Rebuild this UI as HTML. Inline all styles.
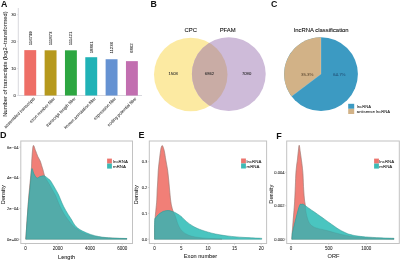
<!DOCTYPE html>
<html><head><meta charset="utf-8"><style>
html,body{margin:0;padding:0;background:#fff;}
body{width:400px;height:260px;overflow:hidden;}
svg{display:block;will-change:transform;filter:blur(0.3px);font-family:"Liberation Sans", sans-serif;}
</style></head><body>
<svg width="400" height="260" viewBox="0 0 400 260">
<rect width="400" height="260" fill="#fff"/>
<text x="1.0" y="6.6" font-size="8.8" text-anchor="start" font-weight="bold" fill="#111" stroke="#111" stroke-width="0">A</text>
<text x="150.4" y="6.7" font-size="8.8" text-anchor="start" font-weight="bold" fill="#111" stroke="#111" stroke-width="0">B</text>
<text x="271.0" y="6.9" font-size="8.8" text-anchor="start" font-weight="bold" fill="#111" stroke="#111" stroke-width="0">C</text>
<text x="0.05" y="138.3" font-size="9" text-anchor="start" font-weight="bold" fill="#111" stroke="#111" stroke-width="0">D</text>
<text x="138.4" y="138.1" font-size="9" text-anchor="start" font-weight="bold" fill="#111" stroke="#111" stroke-width="0">E</text>
<text x="276.3" y="139.0" font-size="9" text-anchor="start" font-weight="bold" fill="#111" stroke="#111" stroke-width="0">F</text>
<line x1="18.3" y1="8" x2="18.3" y2="95.5" stroke="#d4d4da" stroke-width="0.9"/>
<line x1="18.3" y1="95.5" x2="142" y2="95.5" stroke="#d4d4da" stroke-width="0.9"/>
<line x1="16.9" y1="95.50" x2="18.3" y2="95.50" stroke="#d4d4da" stroke-width="0.6"/>
<text x="15.7" y="96.6" font-size="4.1" text-anchor="end" font-weight="normal" fill="#262626" stroke="#262626" stroke-width="0.05">0</text>
<line x1="16.9" y1="68.55" x2="18.3" y2="68.55" stroke="#d4d4da" stroke-width="0.6"/>
<text x="15.7" y="69.64999999999999" font-size="4.1" text-anchor="end" font-weight="normal" fill="#262626" stroke="#262626" stroke-width="0.05">10</text>
<line x1="16.9" y1="41.60" x2="18.3" y2="41.60" stroke="#d4d4da" stroke-width="0.6"/>
<text x="15.7" y="42.7" font-size="4.1" text-anchor="end" font-weight="normal" fill="#262626" stroke="#262626" stroke-width="0.05">20</text>
<line x1="16.9" y1="14.65" x2="18.3" y2="14.65" stroke="#d4d4da" stroke-width="0.6"/>
<text x="15.7" y="15.750000000000005" font-size="4.1" text-anchor="end" font-weight="normal" fill="#262626" stroke="#262626" stroke-width="0.05">30</text>
<rect x="24.30" y="50.13" width="11.9" height="45.37" fill="#EE6E66"/>
<text x="31.75" y="45.30" font-size="4.3" text-anchor="start" font-weight="normal" fill="#222" stroke="#222" stroke-width="0.05" transform="rotate(-90 31.75 45.30)">116799</text>
<text x="35.25" y="98.90" font-size="4.3" text-anchor="end" font-weight="normal" fill="#222" stroke="#222" stroke-width="0.05" transform="rotate(-45 35.25 98.90)">assembled transcripts</text>
<rect x="44.63" y="50.30" width="11.9" height="45.20" fill="#B6991D"/>
<text x="52.08" y="45.30" font-size="4.3" text-anchor="start" font-weight="normal" fill="#222" stroke="#222" stroke-width="0.05" transform="rotate(-90 52.08 45.30)">111873</text>
<text x="55.58" y="98.90" font-size="4.3" text-anchor="end" font-weight="normal" fill="#222" stroke="#222" stroke-width="0.05" transform="rotate(-45 55.58 98.90)">exon number filter</text>
<rect x="64.96" y="50.32" width="11.9" height="45.18" fill="#2DA641"/>
<text x="72.41" y="45.30" font-size="4.3" text-anchor="start" font-weight="normal" fill="#222" stroke="#222" stroke-width="0.05" transform="rotate(-90 72.41 45.30)">111421</text>
<text x="75.91" y="98.90" font-size="4.3" text-anchor="end" font-weight="normal" fill="#222" stroke="#222" stroke-width="0.05" transform="rotate(-45 75.91 98.90)">transcript length filter</text>
<rect x="85.29" y="57.22" width="11.9" height="38.28" fill="#20B2B6"/>
<text x="92.74" y="53.30" font-size="4.3" text-anchor="start" font-weight="normal" fill="#222" stroke="#222" stroke-width="0.05" transform="rotate(-90 92.74 53.30)">18861</text>
<text x="96.24" y="98.90" font-size="4.3" text-anchor="end" font-weight="normal" fill="#222" stroke="#222" stroke-width="0.05" transform="rotate(-45 96.24 98.90)">known annotation filter</text>
<rect x="105.62" y="59.24" width="11.9" height="36.26" fill="#6592D2"/>
<text x="113.07" y="53.60" font-size="4.3" text-anchor="start" font-weight="normal" fill="#222" stroke="#222" stroke-width="0.05" transform="rotate(-90 113.07 53.60)">11236</text>
<text x="116.57" y="98.90" font-size="4.3" text-anchor="end" font-weight="normal" fill="#222" stroke="#222" stroke-width="0.05" transform="rotate(-45 116.57 98.90)">expression filter</text>
<rect x="125.95" y="61.15" width="11.9" height="34.35" fill="#C26FB0"/>
<text x="133.40" y="52.90" font-size="4.3" text-anchor="start" font-weight="normal" fill="#222" stroke="#222" stroke-width="0.05" transform="rotate(-90 133.40 52.90)">6862</text>
<text x="136.90" y="98.90" font-size="4.3" text-anchor="end" font-weight="normal" fill="#222" stroke="#222" stroke-width="0.05" transform="rotate(-45 136.90 98.90)">coding potential filter</text>
<text x="6.8" y="64.0" font-size="5.75" text-anchor="middle" font-weight="normal" fill="#222" stroke="#222" stroke-width="0.05" transform="rotate(-90 6.8 64.0)">Number of transcripts (log2−transformed)</text>
<circle cx="190.75" cy="74.45" r="36.75" fill="#FCEAA2"/>
<circle cx="228.8" cy="74.1" r="36.9" fill="#CEBBD9"/>
<clipPath id="cl"><circle cx="190.75" cy="74.45" r="36.75"/></clipPath>
<circle cx="228.8" cy="74.1" r="36.9" fill="#C9ACA5" clip-path="url(#cl)"/>
<text x="190.8" y="32.4" font-size="5.9" text-anchor="middle" font-weight="normal" fill="#111" stroke="#111" stroke-width="0.05" style="stroke-width:0.09px">CPC</text>
<text x="227.7" y="32.4" font-size="5.9" text-anchor="middle" font-weight="normal" fill="#111" stroke="#111" stroke-width="0.05" style="stroke-width:0.09px">PFAM</text>
<text x="173.2" y="75.3" font-size="4.2" text-anchor="middle" font-weight="normal" fill="#262626" stroke="#262626" stroke-width="0.05">1503</text>
<text x="209.5" y="75.3" font-size="4.2" text-anchor="middle" font-weight="normal" fill="#262626" stroke="#262626" stroke-width="0.05">6862</text>
<text x="246.6" y="75.3" font-size="4.2" text-anchor="middle" font-weight="normal" fill="#262626" stroke="#262626" stroke-width="0.05">7090</text>
<circle cx="321.0" cy="74.1" r="36.9" fill="#3C9AC2"/>
<path d="M321.0,74.1 L321.0,37.199999999999996 A36.9,36.9 0 0 0 291.56,96.35 Z" fill="#D2B287"/>
<path d="M291.56,96.35 L321.0,74.1 L321.0,37.199999999999996" fill="none" stroke="#fff" stroke-opacity="0.35" stroke-width="0.5"/>
<text x="321.3" y="32.4" font-size="5.9" text-anchor="middle" font-weight="normal" fill="#111" stroke="#111" stroke-width="0.05" style="stroke-width:0.09px">lncRNA classification</text>
<text x="307.2" y="75.5" font-size="4.4" text-anchor="middle" font-weight="normal" fill="#5f4c34" stroke="#5f4c34" stroke-width="0.05">35.3%</text>
<text x="339.3" y="75.5" font-size="4.4" text-anchor="middle" font-weight="normal" fill="#24557a" stroke="#24557a" stroke-width="0.05">64.7%</text>
<rect x="348.2" y="103.8" width="6" height="5" fill="#3C9AC2"/>
<rect x="348.2" y="108.8" width="6" height="5.2" fill="#D2B287"/>
<text x="356.8" y="107.8" font-size="4.2" text-anchor="start" font-weight="normal" fill="#262626" stroke="#262626" stroke-width="0.05">lncRNA</text>
<text x="356.8" y="113.3" font-size="4.2" text-anchor="start" font-weight="normal" fill="#262626" stroke="#262626" stroke-width="0.05">antisense lncRNA</text>
<rect x="20.8" y="141.0" width="111.7" height="102.5" fill="none" stroke="#c2c2c2" stroke-width="1"/>
<clipPath id="cd"><path d="M25.80,239.25 C26.25,232.71 27.58,211.54 28.50,200.00 C29.42,188.46 30.75,176.67 31.30,170.00 C31.85,163.33 31.48,164.03 31.80,160.00 C32.12,155.97 32.58,147.38 33.20,145.80 C33.82,144.22 34.73,148.72 35.50,150.50 C36.27,152.28 37.02,154.75 37.80,156.50 C38.58,158.25 39.57,159.50 40.20,161.00 C40.83,162.50 41.13,164.00 41.60,165.50 C42.07,167.00 42.60,168.58 43.00,170.00 C43.40,171.42 43.63,172.75 44.00,174.00 C44.37,175.25 44.70,176.42 45.20,177.50 C45.70,178.58 46.28,179.33 47.00,180.50 C47.72,181.67 48.58,182.92 49.50,184.50 C50.42,186.08 51.48,188.15 52.50,190.00 C53.52,191.85 54.58,193.43 55.60,195.60 C56.62,197.77 57.48,200.47 58.60,203.00 C59.72,205.53 60.85,208.18 62.30,210.80 C63.75,213.42 65.38,216.08 67.30,218.70 C69.22,221.32 71.60,224.42 73.80,226.50 C76.00,228.58 78.05,229.83 80.50,231.20 C82.95,232.57 84.75,233.62 88.50,234.70 C92.25,235.78 96.58,237.03 103.00,237.70 C109.42,238.37 123.00,238.53 127.00,238.70 L127.00,239.25 L25.80,239.25 Z"/></clipPath>
<path d="M25.80,239.25 C26.25,232.71 27.58,211.54 28.50,200.00 C29.42,188.46 30.75,176.67 31.30,170.00 C31.85,163.33 31.48,164.03 31.80,160.00 C32.12,155.97 32.58,147.38 33.20,145.80 C33.82,144.22 34.73,148.72 35.50,150.50 C36.27,152.28 37.02,154.75 37.80,156.50 C38.58,158.25 39.57,159.50 40.20,161.00 C40.83,162.50 41.13,164.00 41.60,165.50 C42.07,167.00 42.60,168.58 43.00,170.00 C43.40,171.42 43.63,172.75 44.00,174.00 C44.37,175.25 44.70,176.42 45.20,177.50 C45.70,178.58 46.28,179.33 47.00,180.50 C47.72,181.67 48.58,182.92 49.50,184.50 C50.42,186.08 51.48,188.15 52.50,190.00 C53.52,191.85 54.58,193.43 55.60,195.60 C56.62,197.77 57.48,200.47 58.60,203.00 C59.72,205.53 60.85,208.18 62.30,210.80 C63.75,213.42 65.38,216.08 67.30,218.70 C69.22,221.32 71.60,224.42 73.80,226.50 C76.00,228.58 78.05,229.83 80.50,231.20 C82.95,232.57 84.75,233.62 88.50,234.70 C92.25,235.78 96.58,237.03 103.00,237.70 C109.42,238.37 123.00,238.53 127.00,238.70 L127.00,239.25 L25.80,239.25 Z" fill="#F17F77"/>
<path d="M25.80,239.25 C26.25,232.71 27.58,211.54 28.50,200.00 C29.42,188.46 30.75,176.67 31.30,170.00 C31.85,163.33 31.48,164.03 31.80,160.00 C32.12,155.97 32.58,147.38 33.20,145.80 C33.82,144.22 34.73,148.72 35.50,150.50 C36.27,152.28 37.02,154.75 37.80,156.50 C38.58,158.25 39.57,159.50 40.20,161.00 C40.83,162.50 41.13,164.00 41.60,165.50 C42.07,167.00 42.60,168.58 43.00,170.00 C43.40,171.42 43.63,172.75 44.00,174.00 C44.37,175.25 44.70,176.42 45.20,177.50 C45.70,178.58 46.28,179.33 47.00,180.50 C47.72,181.67 48.58,182.92 49.50,184.50 C50.42,186.08 51.48,188.15 52.50,190.00 C53.52,191.85 54.58,193.43 55.60,195.60 C56.62,197.77 57.48,200.47 58.60,203.00 C59.72,205.53 60.85,208.18 62.30,210.80 C63.75,213.42 65.38,216.08 67.30,218.70 C69.22,221.32 71.60,224.42 73.80,226.50 C76.00,228.58 78.05,229.83 80.50,231.20 C82.95,232.57 84.75,233.62 88.50,234.70 C92.25,235.78 96.58,237.03 103.00,237.70 C109.42,238.37 123.00,238.53 127.00,238.70" fill="none" stroke="#D46A63" stroke-width="0.5"/>
<path d="M25.80,239.25 C26.17,234.04 27.27,216.88 28.00,208.00 C28.73,199.12 29.57,192.50 30.20,186.00 C30.83,179.50 31.17,171.00 31.80,169.00 C32.43,167.00 33.13,172.50 34.00,174.00 C34.87,175.50 36.00,177.58 37.00,178.00 C38.00,178.42 38.92,176.87 40.00,176.50 C41.08,176.13 42.58,175.80 43.50,175.80 C44.42,175.80 44.75,176.05 45.50,176.50 C46.25,176.95 47.17,177.80 48.00,178.50 C48.83,179.20 49.45,179.28 50.50,180.70 C51.55,182.12 52.93,184.62 54.30,187.00 C55.67,189.38 57.42,192.33 58.70,195.00 C59.98,197.67 60.82,200.42 62.00,203.00 C63.18,205.58 64.30,207.87 65.80,210.50 C67.30,213.13 69.30,216.12 71.00,218.80 C72.70,221.48 74.08,224.57 76.00,226.60 C77.92,228.63 80.08,229.70 82.50,231.00 C84.92,232.30 87.83,233.48 90.50,234.40 C93.17,235.32 95.83,235.97 98.50,236.50 C101.17,237.03 103.83,237.33 106.50,237.60 C109.17,237.87 111.10,237.95 114.50,238.10 C117.90,238.25 124.83,238.43 126.90,238.50 L126.90,239.25 L25.80,239.25 Z" fill="#4AC5C0"/>
<path d="M25.80,239.25 C26.17,234.04 27.27,216.88 28.00,208.00 C28.73,199.12 29.57,192.50 30.20,186.00 C30.83,179.50 31.17,171.00 31.80,169.00 C32.43,167.00 33.13,172.50 34.00,174.00 C34.87,175.50 36.00,177.58 37.00,178.00 C38.00,178.42 38.92,176.87 40.00,176.50 C41.08,176.13 42.58,175.80 43.50,175.80 C44.42,175.80 44.75,176.05 45.50,176.50 C46.25,176.95 47.17,177.80 48.00,178.50 C48.83,179.20 49.45,179.28 50.50,180.70 C51.55,182.12 52.93,184.62 54.30,187.00 C55.67,189.38 57.42,192.33 58.70,195.00 C59.98,197.67 60.82,200.42 62.00,203.00 C63.18,205.58 64.30,207.87 65.80,210.50 C67.30,213.13 69.30,216.12 71.00,218.80 C72.70,221.48 74.08,224.57 76.00,226.60 C77.92,228.63 80.08,229.70 82.50,231.00 C84.92,232.30 87.83,233.48 90.50,234.40 C93.17,235.32 95.83,235.97 98.50,236.50 C101.17,237.03 103.83,237.33 106.50,237.60 C109.17,237.87 111.10,237.95 114.50,238.10 C117.90,238.25 124.83,238.43 126.90,238.50 L126.90,239.25 L25.80,239.25 Z" fill="#53ABA9" clip-path="url(#cd)"/>
<path d="M25.80,239.25 C26.25,232.71 27.58,211.54 28.50,200.00 C29.42,188.46 30.75,176.67 31.30,170.00 C31.85,163.33 31.48,164.03 31.80,160.00 C32.12,155.97 32.58,147.38 33.20,145.80 C33.82,144.22 34.73,148.72 35.50,150.50 C36.27,152.28 37.02,154.75 37.80,156.50 C38.58,158.25 39.57,159.50 40.20,161.00 C40.83,162.50 41.13,164.00 41.60,165.50 C42.07,167.00 42.60,168.58 43.00,170.00 C43.40,171.42 43.63,172.75 44.00,174.00 C44.37,175.25 44.70,176.42 45.20,177.50 C45.70,178.58 46.28,179.33 47.00,180.50 C47.72,181.67 48.58,182.92 49.50,184.50 C50.42,186.08 51.48,188.15 52.50,190.00 C53.52,191.85 54.58,193.43 55.60,195.60 C56.62,197.77 57.48,200.47 58.60,203.00 C59.72,205.53 60.85,208.18 62.30,210.80 C63.75,213.42 65.38,216.08 67.30,218.70 C69.22,221.32 71.60,224.42 73.80,226.50 C76.00,228.58 78.05,229.83 80.50,231.20 C82.95,232.57 84.75,233.62 88.50,234.70 C92.25,235.78 96.58,237.03 103.00,237.70 C109.42,238.37 123.00,238.53 127.00,238.70" fill="none" stroke="#3F8F8C" stroke-width="0.5" stroke-opacity="0.5"/>
<path d="M25.80,239.25 C26.17,234.04 27.27,216.88 28.00,208.00 C28.73,199.12 29.57,192.50 30.20,186.00 C30.83,179.50 31.17,171.00 31.80,169.00 C32.43,167.00 33.13,172.50 34.00,174.00 C34.87,175.50 36.00,177.58 37.00,178.00 C38.00,178.42 38.92,176.87 40.00,176.50 C41.08,176.13 42.58,175.80 43.50,175.80 C44.42,175.80 44.75,176.05 45.50,176.50 C46.25,176.95 47.17,177.80 48.00,178.50 C48.83,179.20 49.45,179.28 50.50,180.70 C51.55,182.12 52.93,184.62 54.30,187.00 C55.67,189.38 57.42,192.33 58.70,195.00 C59.98,197.67 60.82,200.42 62.00,203.00 C63.18,205.58 64.30,207.87 65.80,210.50 C67.30,213.13 69.30,216.12 71.00,218.80 C72.70,221.48 74.08,224.57 76.00,226.60 C77.92,228.63 80.08,229.70 82.50,231.00 C84.92,232.30 87.83,233.48 90.50,234.40 C93.17,235.32 95.83,235.97 98.50,236.50 C101.17,237.03 103.83,237.33 106.50,237.60 C109.17,237.87 111.10,237.95 114.50,238.10 C117.90,238.25 124.83,238.43 126.90,238.50 L126.90,239.25 L25.80,239.25 Z" fill="none" stroke="#35908D" stroke-width="0.5"/>
<line x1="19.2" y1="239.30" x2="20.6" y2="239.30" stroke="#bdbdbd" stroke-width="0.6"/>
<text x="18.6" y="240.77" font-size="4.1" text-anchor="end" font-weight="normal" fill="#262626" stroke="#262626" stroke-width="0.05">0e+00</text>
<line x1="19.2" y1="208.60" x2="20.6" y2="208.60" stroke="#bdbdbd" stroke-width="0.6"/>
<text x="18.6" y="210.07" font-size="4.1" text-anchor="end" font-weight="normal" fill="#262626" stroke="#262626" stroke-width="0.05">2e−04</text>
<line x1="19.2" y1="177.90" x2="20.6" y2="177.90" stroke="#bdbdbd" stroke-width="0.6"/>
<text x="18.6" y="179.37" font-size="4.1" text-anchor="end" font-weight="normal" fill="#262626" stroke="#262626" stroke-width="0.05">4e−04</text>
<line x1="19.2" y1="147.20" x2="20.6" y2="147.20" stroke="#bdbdbd" stroke-width="0.6"/>
<text x="18.6" y="148.67" font-size="4.1" text-anchor="end" font-weight="normal" fill="#262626" stroke="#262626" stroke-width="0.05">6e−04</text>
<line x1="25.60" y1="243.5" x2="25.60" y2="244.9" stroke="#bdbdbd" stroke-width="0.6"/>
<text x="25.60" y="249.6" font-size="4.5" text-anchor="middle" font-weight="normal" fill="#262626" stroke="#262626" stroke-width="0.05">0</text>
<line x1="57.80" y1="243.5" x2="57.80" y2="244.9" stroke="#bdbdbd" stroke-width="0.6"/>
<text x="57.80" y="249.6" font-size="4.5" text-anchor="middle" font-weight="normal" fill="#262626" stroke="#262626" stroke-width="0.05">2000</text>
<line x1="90.00" y1="243.5" x2="90.00" y2="244.9" stroke="#bdbdbd" stroke-width="0.6"/>
<text x="90.00" y="249.6" font-size="4.5" text-anchor="middle" font-weight="normal" fill="#262626" stroke="#262626" stroke-width="0.05">4000</text>
<line x1="122.20" y1="243.5" x2="122.20" y2="244.9" stroke="#bdbdbd" stroke-width="0.6"/>
<text x="122.20" y="249.6" font-size="4.5" text-anchor="middle" font-weight="normal" fill="#262626" stroke="#262626" stroke-width="0.05">6000</text>
<text x="66.6" y="258.6" font-size="5.6" text-anchor="middle" font-weight="normal" fill="#222" stroke="#222" stroke-width="0.05">Length</text>
<text x="5.1" y="194.7" font-size="5.7" text-anchor="middle" font-weight="normal" fill="#222" stroke="#222" stroke-width="0.05" transform="rotate(-90 5.1 194.7)">Density</text>
<rect x="107.1" y="158.6" width="4.8" height="5" fill="#EC756E"/>
<rect x="107.1" y="163.6" width="4.8" height="5" fill="#3CBAB5"/>
<text x="113.00" y="162.60" font-size="4.4" text-anchor="start" font-weight="normal" fill="#222" stroke="#222" stroke-width="0.05">lncRNA</text>
<text x="113.00" y="167.60" font-size="4.4" text-anchor="start" font-weight="normal" fill="#222" stroke="#222" stroke-width="0.05">mRNA</text>
<rect x="149.3" y="141.0" width="117.30000000000001" height="102.5" fill="none" stroke="#c2c2c2" stroke-width="1"/>
<clipPath id="ce"><path d="M154.70,239.30 C154.72,237.42 154.70,231.88 154.80,228.00 C154.90,224.12 155.12,219.00 155.30,216.00 C155.48,213.00 155.65,212.67 155.90,210.00 C156.15,207.33 156.58,203.33 156.80,200.00 C157.02,196.67 157.03,193.33 157.20,190.00 C157.37,186.67 157.62,183.33 157.80,180.00 C157.98,176.67 158.03,173.33 158.30,170.00 C158.57,166.67 159.05,163.00 159.40,160.00 C159.75,157.00 160.10,154.07 160.40,152.00 C160.70,149.93 160.90,148.67 161.20,147.60 C161.50,146.53 161.85,145.60 162.20,145.60 C162.55,145.60 162.92,146.53 163.30,147.60 C163.68,148.67 164.08,149.93 164.50,152.00 C164.92,154.07 165.28,157.00 165.80,160.00 C166.32,163.00 167.12,166.67 167.60,170.00 C168.08,173.33 168.37,176.67 168.70,180.00 C169.03,183.33 169.28,186.67 169.60,190.00 C169.92,193.33 170.27,197.33 170.60,200.00 C170.93,202.67 171.20,204.17 171.60,206.00 C172.00,207.83 172.38,209.33 173.00,211.00 C173.62,212.67 174.40,213.63 175.30,216.00 C176.20,218.37 177.20,222.63 178.40,225.20 C179.60,227.77 180.77,229.73 182.50,231.40 C184.23,233.07 186.72,234.28 188.80,235.20 C190.88,236.12 192.75,236.45 195.00,236.90 C197.25,237.35 199.47,237.62 202.30,237.90 C205.13,238.18 208.72,238.43 212.00,238.60 C215.28,238.77 220.33,238.85 222.00,238.90 L222.00,239.30 L154.70,239.30 Z"/></clipPath>
<path d="M154.70,239.30 C154.72,237.42 154.70,231.88 154.80,228.00 C154.90,224.12 155.12,219.00 155.30,216.00 C155.48,213.00 155.65,212.67 155.90,210.00 C156.15,207.33 156.58,203.33 156.80,200.00 C157.02,196.67 157.03,193.33 157.20,190.00 C157.37,186.67 157.62,183.33 157.80,180.00 C157.98,176.67 158.03,173.33 158.30,170.00 C158.57,166.67 159.05,163.00 159.40,160.00 C159.75,157.00 160.10,154.07 160.40,152.00 C160.70,149.93 160.90,148.67 161.20,147.60 C161.50,146.53 161.85,145.60 162.20,145.60 C162.55,145.60 162.92,146.53 163.30,147.60 C163.68,148.67 164.08,149.93 164.50,152.00 C164.92,154.07 165.28,157.00 165.80,160.00 C166.32,163.00 167.12,166.67 167.60,170.00 C168.08,173.33 168.37,176.67 168.70,180.00 C169.03,183.33 169.28,186.67 169.60,190.00 C169.92,193.33 170.27,197.33 170.60,200.00 C170.93,202.67 171.20,204.17 171.60,206.00 C172.00,207.83 172.38,209.33 173.00,211.00 C173.62,212.67 174.40,213.63 175.30,216.00 C176.20,218.37 177.20,222.63 178.40,225.20 C179.60,227.77 180.77,229.73 182.50,231.40 C184.23,233.07 186.72,234.28 188.80,235.20 C190.88,236.12 192.75,236.45 195.00,236.90 C197.25,237.35 199.47,237.62 202.30,237.90 C205.13,238.18 208.72,238.43 212.00,238.60 C215.28,238.77 220.33,238.85 222.00,238.90 L222.00,239.30 L154.70,239.30 Z" fill="#F17F77"/>
<path d="M154.70,239.30 C154.72,237.42 154.70,231.88 154.80,228.00 C154.90,224.12 155.12,219.00 155.30,216.00 C155.48,213.00 155.65,212.67 155.90,210.00 C156.15,207.33 156.58,203.33 156.80,200.00 C157.02,196.67 157.03,193.33 157.20,190.00 C157.37,186.67 157.62,183.33 157.80,180.00 C157.98,176.67 158.03,173.33 158.30,170.00 C158.57,166.67 159.05,163.00 159.40,160.00 C159.75,157.00 160.10,154.07 160.40,152.00 C160.70,149.93 160.90,148.67 161.20,147.60 C161.50,146.53 161.85,145.60 162.20,145.60 C162.55,145.60 162.92,146.53 163.30,147.60 C163.68,148.67 164.08,149.93 164.50,152.00 C164.92,154.07 165.28,157.00 165.80,160.00 C166.32,163.00 167.12,166.67 167.60,170.00 C168.08,173.33 168.37,176.67 168.70,180.00 C169.03,183.33 169.28,186.67 169.60,190.00 C169.92,193.33 170.27,197.33 170.60,200.00 C170.93,202.67 171.20,204.17 171.60,206.00 C172.00,207.83 172.38,209.33 173.00,211.00 C173.62,212.67 174.40,213.63 175.30,216.00 C176.20,218.37 177.20,222.63 178.40,225.20 C179.60,227.77 180.77,229.73 182.50,231.40 C184.23,233.07 186.72,234.28 188.80,235.20 C190.88,236.12 192.75,236.45 195.00,236.90 C197.25,237.35 199.47,237.62 202.30,237.90 C205.13,238.18 208.72,238.43 212.00,238.60 C215.28,238.77 220.33,238.85 222.00,238.90" fill="none" stroke="#D46A63" stroke-width="0.5"/>
<path d="M154.60,239.30 C154.60,236.17 154.37,224.13 154.60,220.50 C154.83,216.87 155.35,218.50 156.00,217.50 C156.65,216.50 157.28,215.53 158.50,214.50 C159.72,213.47 161.70,211.97 163.30,211.30 C164.90,210.63 166.62,210.48 168.10,210.50 C169.58,210.52 171.05,211.07 172.20,211.40 C173.35,211.73 173.78,211.87 175.00,212.50 C176.22,213.13 178.33,214.42 179.50,215.20 C180.67,215.98 180.87,216.17 182.00,217.20 C183.13,218.23 184.47,219.90 186.30,221.40 C188.13,222.90 190.38,224.73 193.00,226.20 C195.62,227.67 198.25,228.90 202.00,230.20 C205.75,231.50 210.62,232.97 215.50,234.00 C220.38,235.03 226.05,235.80 231.30,236.40 C236.55,237.00 241.93,237.28 247.00,237.60 C252.07,237.92 259.25,238.18 261.70,238.30 L261.70,239.30 L154.60,239.30 Z" fill="#4AC5C0"/>
<path d="M154.60,239.30 C154.60,236.17 154.37,224.13 154.60,220.50 C154.83,216.87 155.35,218.50 156.00,217.50 C156.65,216.50 157.28,215.53 158.50,214.50 C159.72,213.47 161.70,211.97 163.30,211.30 C164.90,210.63 166.62,210.48 168.10,210.50 C169.58,210.52 171.05,211.07 172.20,211.40 C173.35,211.73 173.78,211.87 175.00,212.50 C176.22,213.13 178.33,214.42 179.50,215.20 C180.67,215.98 180.87,216.17 182.00,217.20 C183.13,218.23 184.47,219.90 186.30,221.40 C188.13,222.90 190.38,224.73 193.00,226.20 C195.62,227.67 198.25,228.90 202.00,230.20 C205.75,231.50 210.62,232.97 215.50,234.00 C220.38,235.03 226.05,235.80 231.30,236.40 C236.55,237.00 241.93,237.28 247.00,237.60 C252.07,237.92 259.25,238.18 261.70,238.30 L261.70,239.30 L154.60,239.30 Z" fill="#53ABA9" clip-path="url(#ce)"/>
<path d="M154.70,239.30 C154.72,237.42 154.70,231.88 154.80,228.00 C154.90,224.12 155.12,219.00 155.30,216.00 C155.48,213.00 155.65,212.67 155.90,210.00 C156.15,207.33 156.58,203.33 156.80,200.00 C157.02,196.67 157.03,193.33 157.20,190.00 C157.37,186.67 157.62,183.33 157.80,180.00 C157.98,176.67 158.03,173.33 158.30,170.00 C158.57,166.67 159.05,163.00 159.40,160.00 C159.75,157.00 160.10,154.07 160.40,152.00 C160.70,149.93 160.90,148.67 161.20,147.60 C161.50,146.53 161.85,145.60 162.20,145.60 C162.55,145.60 162.92,146.53 163.30,147.60 C163.68,148.67 164.08,149.93 164.50,152.00 C164.92,154.07 165.28,157.00 165.80,160.00 C166.32,163.00 167.12,166.67 167.60,170.00 C168.08,173.33 168.37,176.67 168.70,180.00 C169.03,183.33 169.28,186.67 169.60,190.00 C169.92,193.33 170.27,197.33 170.60,200.00 C170.93,202.67 171.20,204.17 171.60,206.00 C172.00,207.83 172.38,209.33 173.00,211.00 C173.62,212.67 174.40,213.63 175.30,216.00 C176.20,218.37 177.20,222.63 178.40,225.20 C179.60,227.77 180.77,229.73 182.50,231.40 C184.23,233.07 186.72,234.28 188.80,235.20 C190.88,236.12 192.75,236.45 195.00,236.90 C197.25,237.35 199.47,237.62 202.30,237.90 C205.13,238.18 208.72,238.43 212.00,238.60 C215.28,238.77 220.33,238.85 222.00,238.90" fill="none" stroke="#3F8F8C" stroke-width="0.5" stroke-opacity="0.5"/>
<path d="M154.60,239.30 C154.60,236.17 154.37,224.13 154.60,220.50 C154.83,216.87 155.35,218.50 156.00,217.50 C156.65,216.50 157.28,215.53 158.50,214.50 C159.72,213.47 161.70,211.97 163.30,211.30 C164.90,210.63 166.62,210.48 168.10,210.50 C169.58,210.52 171.05,211.07 172.20,211.40 C173.35,211.73 173.78,211.87 175.00,212.50 C176.22,213.13 178.33,214.42 179.50,215.20 C180.67,215.98 180.87,216.17 182.00,217.20 C183.13,218.23 184.47,219.90 186.30,221.40 C188.13,222.90 190.38,224.73 193.00,226.20 C195.62,227.67 198.25,228.90 202.00,230.20 C205.75,231.50 210.62,232.97 215.50,234.00 C220.38,235.03 226.05,235.80 231.30,236.40 C236.55,237.00 241.93,237.28 247.00,237.60 C252.07,237.92 259.25,238.18 261.70,238.30 L261.70,239.30 L154.60,239.30 Z" fill="none" stroke="#35908D" stroke-width="0.5"/>
<line x1="147.9" y1="239.20" x2="149.3" y2="239.20" stroke="#bdbdbd" stroke-width="0.6"/>
<text x="147.4" y="240.67" font-size="4.1" text-anchor="end" font-weight="normal" fill="#262626" stroke="#262626" stroke-width="0.05">0.0</text>
<line x1="147.9" y1="213.35" x2="149.3" y2="213.35" stroke="#bdbdbd" stroke-width="0.6"/>
<text x="147.4" y="214.82" font-size="4.1" text-anchor="end" font-weight="normal" fill="#262626" stroke="#262626" stroke-width="0.05">0.1</text>
<line x1="147.9" y1="187.50" x2="149.3" y2="187.50" stroke="#bdbdbd" stroke-width="0.6"/>
<text x="147.4" y="188.97" font-size="4.1" text-anchor="end" font-weight="normal" fill="#262626" stroke="#262626" stroke-width="0.05">0.2</text>
<line x1="147.9" y1="161.65" x2="149.3" y2="161.65" stroke="#bdbdbd" stroke-width="0.6"/>
<text x="147.4" y="163.12" font-size="4.1" text-anchor="end" font-weight="normal" fill="#262626" stroke="#262626" stroke-width="0.05">0.3</text>
<line x1="154.60" y1="243.5" x2="154.60" y2="244.9" stroke="#bdbdbd" stroke-width="0.6"/>
<text x="154.60" y="249.6" font-size="4.5" text-anchor="middle" font-weight="normal" fill="#262626" stroke="#262626" stroke-width="0.05">0</text>
<line x1="181.25" y1="243.5" x2="181.25" y2="244.9" stroke="#bdbdbd" stroke-width="0.6"/>
<text x="181.25" y="249.6" font-size="4.5" text-anchor="middle" font-weight="normal" fill="#262626" stroke="#262626" stroke-width="0.05">5</text>
<line x1="207.90" y1="243.5" x2="207.90" y2="244.9" stroke="#bdbdbd" stroke-width="0.6"/>
<text x="207.90" y="249.6" font-size="4.5" text-anchor="middle" font-weight="normal" fill="#262626" stroke="#262626" stroke-width="0.05">10</text>
<line x1="234.55" y1="243.5" x2="234.55" y2="244.9" stroke="#bdbdbd" stroke-width="0.6"/>
<text x="234.55" y="249.6" font-size="4.5" text-anchor="middle" font-weight="normal" fill="#262626" stroke="#262626" stroke-width="0.05">15</text>
<line x1="261.20" y1="243.5" x2="261.20" y2="244.9" stroke="#bdbdbd" stroke-width="0.6"/>
<text x="261.20" y="249.6" font-size="4.5" text-anchor="middle" font-weight="normal" fill="#262626" stroke="#262626" stroke-width="0.05">20</text>
<text x="200.5" y="258.4" font-size="5.6" text-anchor="middle" font-weight="normal" fill="#222" stroke="#222" stroke-width="0.05">Exon number</text>
<text x="137.9" y="194.7" font-size="5.7" text-anchor="middle" font-weight="normal" fill="#222" stroke="#222" stroke-width="0.05" transform="rotate(-90 137.9 194.7)">Density</text>
<rect x="241.1" y="158.5" width="4.8" height="5" fill="#EC756E"/>
<rect x="241.1" y="163.5" width="4.8" height="5" fill="#3CBAB5"/>
<text x="246.50" y="162.50" font-size="4.4" text-anchor="start" font-weight="normal" fill="#222" stroke="#222" stroke-width="0.05">lncRNA</text>
<text x="246.50" y="167.50" font-size="4.4" text-anchor="start" font-weight="normal" fill="#222" stroke="#222" stroke-width="0.05">mRNA</text>
<rect x="286.7" y="141.0" width="112.60000000000002" height="102.5" fill="none" stroke="#c2c2c2" stroke-width="1"/>
<clipPath id="cf"><path d="M291.90,239.35 C291.95,238.29 292.05,235.39 292.20,233.00 C292.35,230.61 292.57,228.00 292.80,225.00 C293.03,222.00 293.33,218.33 293.60,215.00 C293.87,211.67 294.13,209.17 294.40,205.00 C294.67,200.83 294.97,195.00 295.20,190.00 C295.43,185.00 295.55,179.17 295.80,175.00 C296.05,170.83 296.43,167.50 296.70,165.00 C296.97,162.50 297.13,162.25 297.40,160.00 C297.67,157.75 298.00,153.95 298.30,151.50 C298.60,149.05 298.88,145.30 299.20,145.30 C299.52,145.30 299.83,149.05 300.20,151.50 C300.57,153.95 301.05,157.42 301.40,160.00 C301.75,162.58 302.03,164.50 302.30,167.00 C302.57,169.50 302.77,171.17 303.00,175.00 C303.23,178.83 303.45,185.83 303.70,190.00 C303.95,194.17 304.25,197.58 304.50,200.00 C304.75,202.42 304.95,202.50 305.20,204.50 C305.45,206.50 305.58,209.58 306.00,212.00 C306.42,214.42 306.98,216.95 307.70,219.00 C308.42,221.05 309.00,222.85 310.30,224.30 C311.60,225.75 312.88,226.70 315.50,227.70 C318.12,228.70 322.92,229.50 326.00,230.30 C329.08,231.10 330.67,231.65 334.00,232.50 C337.33,233.35 341.67,234.60 346.00,235.40 C350.33,236.20 354.33,236.80 360.00,237.30 C365.67,237.80 374.33,238.15 380.00,238.40 C385.67,238.65 391.67,238.73 394.00,238.80 L394.00,239.35 L291.90,239.35 Z"/></clipPath>
<path d="M291.90,239.35 C291.95,238.29 292.05,235.39 292.20,233.00 C292.35,230.61 292.57,228.00 292.80,225.00 C293.03,222.00 293.33,218.33 293.60,215.00 C293.87,211.67 294.13,209.17 294.40,205.00 C294.67,200.83 294.97,195.00 295.20,190.00 C295.43,185.00 295.55,179.17 295.80,175.00 C296.05,170.83 296.43,167.50 296.70,165.00 C296.97,162.50 297.13,162.25 297.40,160.00 C297.67,157.75 298.00,153.95 298.30,151.50 C298.60,149.05 298.88,145.30 299.20,145.30 C299.52,145.30 299.83,149.05 300.20,151.50 C300.57,153.95 301.05,157.42 301.40,160.00 C301.75,162.58 302.03,164.50 302.30,167.00 C302.57,169.50 302.77,171.17 303.00,175.00 C303.23,178.83 303.45,185.83 303.70,190.00 C303.95,194.17 304.25,197.58 304.50,200.00 C304.75,202.42 304.95,202.50 305.20,204.50 C305.45,206.50 305.58,209.58 306.00,212.00 C306.42,214.42 306.98,216.95 307.70,219.00 C308.42,221.05 309.00,222.85 310.30,224.30 C311.60,225.75 312.88,226.70 315.50,227.70 C318.12,228.70 322.92,229.50 326.00,230.30 C329.08,231.10 330.67,231.65 334.00,232.50 C337.33,233.35 341.67,234.60 346.00,235.40 C350.33,236.20 354.33,236.80 360.00,237.30 C365.67,237.80 374.33,238.15 380.00,238.40 C385.67,238.65 391.67,238.73 394.00,238.80 L394.00,239.35 L291.90,239.35 Z" fill="#F17F77"/>
<path d="M291.90,239.35 C291.95,238.29 292.05,235.39 292.20,233.00 C292.35,230.61 292.57,228.00 292.80,225.00 C293.03,222.00 293.33,218.33 293.60,215.00 C293.87,211.67 294.13,209.17 294.40,205.00 C294.67,200.83 294.97,195.00 295.20,190.00 C295.43,185.00 295.55,179.17 295.80,175.00 C296.05,170.83 296.43,167.50 296.70,165.00 C296.97,162.50 297.13,162.25 297.40,160.00 C297.67,157.75 298.00,153.95 298.30,151.50 C298.60,149.05 298.88,145.30 299.20,145.30 C299.52,145.30 299.83,149.05 300.20,151.50 C300.57,153.95 301.05,157.42 301.40,160.00 C301.75,162.58 302.03,164.50 302.30,167.00 C302.57,169.50 302.77,171.17 303.00,175.00 C303.23,178.83 303.45,185.83 303.70,190.00 C303.95,194.17 304.25,197.58 304.50,200.00 C304.75,202.42 304.95,202.50 305.20,204.50 C305.45,206.50 305.58,209.58 306.00,212.00 C306.42,214.42 306.98,216.95 307.70,219.00 C308.42,221.05 309.00,222.85 310.30,224.30 C311.60,225.75 312.88,226.70 315.50,227.70 C318.12,228.70 322.92,229.50 326.00,230.30 C329.08,231.10 330.67,231.65 334.00,232.50 C337.33,233.35 341.67,234.60 346.00,235.40 C350.33,236.20 354.33,236.80 360.00,237.30 C365.67,237.80 374.33,238.15 380.00,238.40 C385.67,238.65 391.67,238.73 394.00,238.80" fill="none" stroke="#D46A63" stroke-width="0.5"/>
<path d="M291.80,239.35 C291.83,238.71 291.83,236.89 292.00,235.50 C292.17,234.11 292.13,233.92 292.80,231.00 C293.47,228.08 294.88,222.25 296.00,218.00 C297.12,213.75 298.58,207.78 299.50,205.50 C300.42,203.22 300.83,204.48 301.50,204.30 C302.17,204.12 302.33,203.78 303.50,204.40 C304.67,205.02 306.62,206.68 308.50,208.00 C310.38,209.32 312.88,210.97 314.80,212.30 C316.72,213.63 318.38,214.85 320.00,216.00 C321.62,217.15 323.00,218.12 324.50,219.20 C326.00,220.28 327.42,221.37 329.00,222.50 C330.58,223.63 332.50,224.95 334.00,226.00 C335.50,227.05 336.70,227.97 338.00,228.80 C339.30,229.63 340.47,230.30 341.80,231.00 C343.13,231.70 344.72,232.45 346.00,233.00 C347.28,233.55 347.83,233.83 349.50,234.30 C351.17,234.77 353.32,235.37 356.00,235.80 C358.68,236.23 361.60,236.57 365.60,236.90 C369.60,237.23 375.27,237.57 380.00,237.80 C384.73,238.03 391.67,238.22 394.00,238.30 L394.00,239.35 L291.80,239.35 Z" fill="#4AC5C0"/>
<path d="M291.80,239.35 C291.83,238.71 291.83,236.89 292.00,235.50 C292.17,234.11 292.13,233.92 292.80,231.00 C293.47,228.08 294.88,222.25 296.00,218.00 C297.12,213.75 298.58,207.78 299.50,205.50 C300.42,203.22 300.83,204.48 301.50,204.30 C302.17,204.12 302.33,203.78 303.50,204.40 C304.67,205.02 306.62,206.68 308.50,208.00 C310.38,209.32 312.88,210.97 314.80,212.30 C316.72,213.63 318.38,214.85 320.00,216.00 C321.62,217.15 323.00,218.12 324.50,219.20 C326.00,220.28 327.42,221.37 329.00,222.50 C330.58,223.63 332.50,224.95 334.00,226.00 C335.50,227.05 336.70,227.97 338.00,228.80 C339.30,229.63 340.47,230.30 341.80,231.00 C343.13,231.70 344.72,232.45 346.00,233.00 C347.28,233.55 347.83,233.83 349.50,234.30 C351.17,234.77 353.32,235.37 356.00,235.80 C358.68,236.23 361.60,236.57 365.60,236.90 C369.60,237.23 375.27,237.57 380.00,237.80 C384.73,238.03 391.67,238.22 394.00,238.30 L394.00,239.35 L291.80,239.35 Z" fill="#53ABA9" clip-path="url(#cf)"/>
<path d="M291.90,239.35 C291.95,238.29 292.05,235.39 292.20,233.00 C292.35,230.61 292.57,228.00 292.80,225.00 C293.03,222.00 293.33,218.33 293.60,215.00 C293.87,211.67 294.13,209.17 294.40,205.00 C294.67,200.83 294.97,195.00 295.20,190.00 C295.43,185.00 295.55,179.17 295.80,175.00 C296.05,170.83 296.43,167.50 296.70,165.00 C296.97,162.50 297.13,162.25 297.40,160.00 C297.67,157.75 298.00,153.95 298.30,151.50 C298.60,149.05 298.88,145.30 299.20,145.30 C299.52,145.30 299.83,149.05 300.20,151.50 C300.57,153.95 301.05,157.42 301.40,160.00 C301.75,162.58 302.03,164.50 302.30,167.00 C302.57,169.50 302.77,171.17 303.00,175.00 C303.23,178.83 303.45,185.83 303.70,190.00 C303.95,194.17 304.25,197.58 304.50,200.00 C304.75,202.42 304.95,202.50 305.20,204.50 C305.45,206.50 305.58,209.58 306.00,212.00 C306.42,214.42 306.98,216.95 307.70,219.00 C308.42,221.05 309.00,222.85 310.30,224.30 C311.60,225.75 312.88,226.70 315.50,227.70 C318.12,228.70 322.92,229.50 326.00,230.30 C329.08,231.10 330.67,231.65 334.00,232.50 C337.33,233.35 341.67,234.60 346.00,235.40 C350.33,236.20 354.33,236.80 360.00,237.30 C365.67,237.80 374.33,238.15 380.00,238.40 C385.67,238.65 391.67,238.73 394.00,238.80" fill="none" stroke="#3F8F8C" stroke-width="0.5" stroke-opacity="0.5"/>
<path d="M291.80,239.35 C291.83,238.71 291.83,236.89 292.00,235.50 C292.17,234.11 292.13,233.92 292.80,231.00 C293.47,228.08 294.88,222.25 296.00,218.00 C297.12,213.75 298.58,207.78 299.50,205.50 C300.42,203.22 300.83,204.48 301.50,204.30 C302.17,204.12 302.33,203.78 303.50,204.40 C304.67,205.02 306.62,206.68 308.50,208.00 C310.38,209.32 312.88,210.97 314.80,212.30 C316.72,213.63 318.38,214.85 320.00,216.00 C321.62,217.15 323.00,218.12 324.50,219.20 C326.00,220.28 327.42,221.37 329.00,222.50 C330.58,223.63 332.50,224.95 334.00,226.00 C335.50,227.05 336.70,227.97 338.00,228.80 C339.30,229.63 340.47,230.30 341.80,231.00 C343.13,231.70 344.72,232.45 346.00,233.00 C347.28,233.55 347.83,233.83 349.50,234.30 C351.17,234.77 353.32,235.37 356.00,235.80 C358.68,236.23 361.60,236.57 365.60,236.90 C369.60,237.23 375.27,237.57 380.00,237.80 C384.73,238.03 391.67,238.22 394.00,238.30 L394.00,239.35 L291.80,239.35 Z" fill="none" stroke="#35908D" stroke-width="0.5"/>
<line x1="285.2" y1="239.10" x2="286.6" y2="239.10" stroke="#bdbdbd" stroke-width="0.6"/>
<text x="284.6" y="240.57" font-size="4.1" text-anchor="end" font-weight="normal" fill="#262626" stroke="#262626" stroke-width="0.05">0.000</text>
<line x1="285.2" y1="205.70" x2="286.6" y2="205.70" stroke="#bdbdbd" stroke-width="0.6"/>
<text x="284.6" y="207.17" font-size="4.1" text-anchor="end" font-weight="normal" fill="#262626" stroke="#262626" stroke-width="0.05">0.002</text>
<line x1="285.2" y1="172.30" x2="286.6" y2="172.30" stroke="#bdbdbd" stroke-width="0.6"/>
<text x="284.6" y="173.77" font-size="4.1" text-anchor="end" font-weight="normal" fill="#262626" stroke="#262626" stroke-width="0.05">0.004</text>
<line x1="291.10" y1="243.5" x2="291.10" y2="244.9" stroke="#bdbdbd" stroke-width="0.6"/>
<text x="291.10" y="249.6" font-size="4.5" text-anchor="middle" font-weight="normal" fill="#262626" stroke="#262626" stroke-width="0.05">0</text>
<line x1="328.70" y1="243.5" x2="328.70" y2="244.9" stroke="#bdbdbd" stroke-width="0.6"/>
<text x="328.70" y="249.6" font-size="4.5" text-anchor="middle" font-weight="normal" fill="#262626" stroke="#262626" stroke-width="0.05">500</text>
<line x1="366.30" y1="243.5" x2="366.30" y2="244.9" stroke="#bdbdbd" stroke-width="0.6"/>
<text x="366.30" y="249.6" font-size="4.5" text-anchor="middle" font-weight="normal" fill="#262626" stroke="#262626" stroke-width="0.05">1000</text>
<text x="333.5" y="258.2" font-size="5.6" text-anchor="middle" font-weight="normal" fill="#222" stroke="#222" stroke-width="0.05">ORF</text>
<text x="272.6" y="194.2" font-size="5.7" text-anchor="middle" font-weight="normal" fill="#222" stroke="#222" stroke-width="0.05" transform="rotate(-90 272.6 194.2)">Density</text>
<rect x="374.1" y="158.6" width="4.8" height="5" fill="#EC756E"/>
<rect x="374.1" y="163.6" width="4.8" height="5" fill="#3CBAB5"/>
<text x="379.30" y="162.60" font-size="4.4" text-anchor="start" font-weight="normal" fill="#222" stroke="#222" stroke-width="0.05">lncRNA</text>
<text x="379.30" y="167.60" font-size="4.4" text-anchor="start" font-weight="normal" fill="#222" stroke="#222" stroke-width="0.05">mRNA</text>
</svg>
</body></html>
